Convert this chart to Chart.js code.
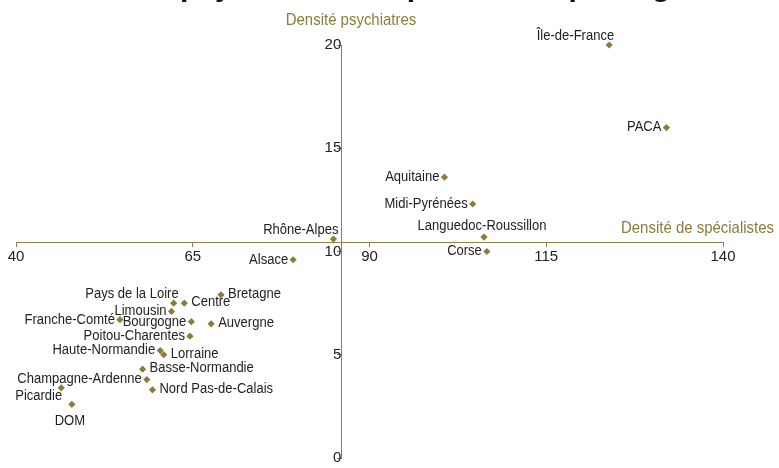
<!DOCTYPE html>
<html>
<head>
<meta charset="utf-8">
<script src="https://cdn.jsdelivr.net/npm/chart.js@4"></script>
<style>
  body { margin: 0; background: #fff; }
  #wrap { width: 779px; height: 468px; position: relative; }
</style>
</head>
<body>
<div id="wrap"><canvas id="chartDensite"></canvas></div>
<script>
// données
const regions = ['Île-de-France', 'PACA', 'Aquitaine', 'Midi-Pyrénées', 'Languedoc-Roussillon',
    'Corse', 'Rhône-Alpes', 'Alsace', 'Bretagne', 'Pays de la Loire', 'Centre', 'Limousin',
    'Franche-Comté', 'Bourgogne', 'Auvergne', 'Poitou-Charentes', 'Haute-Normandie', 'Lorraine',
    'Basse-Normandie', 'Champagne-Ardenne', 'Nord Pas-de-Calais', 'Picardie', 'DOM'];
const densiteSpecialistes = [123.9, 132.0, 100.6, 104.6, 106.2, 106.6, 84.9, 79.2, 69.0, 62.3,
    63.8, 62.0, 54.7, 64.8, 67.6, 64.6, 60.4, 60.9, 57.9, 58.5, 59.3, 46.4, 47.9];
const densitePsychiatres = [20.0, 16.0, 13.6, 12.3, 10.7, 10.0, 10.6, 9.6, 7.9, 7.5,
    7.5, 7.1, 6.7, 6.6, 6.5, 5.9, 5.2, 5.0, 4.3, 3.8, 3.3, 3.4, 2.6];
const xTicks = [40, 65, 90, 115, 140];
const yTicks = [0, 5, 10, 15, 20];

// placement des étiquettes
const labelPos = ['aboveLeft', 'left', 'left', 'left', 'above', 'left', 'aboveLeft', 'left',
    'right', 'aboveLeft', 'right', 'left', 'left', 'left', 'right', 'left', 'left', 'right',
    'right', 'left', 'right', 'belowLeft', 'below'];

const olive = '#8c7b3c';
const axisCol = '#8f8142';
const fontFam = "'Liberation Sans', Arial, sans-serif";

// texte un peu condensé (police étroite dans l'original)
function narrowText(ctx, t, x, y, sx) {
    ctx.save();
    ctx.translate(x, y);
    ctx.scale(sx, 1);
    ctx.fillText(t, 0, 0);
    ctx.restore();
}

const labelsPlugin = {
    id: 'labels',
    afterDatasetsDraw(chart) {
        const ctx = chart.ctx;
        const pts = chart.getDatasetMeta(0).data;
        ctx.save();
        ctx.font = '14px ' + fontFam;
        ctx.fillStyle = '#222';
        ctx.textBaseline = 'middle';
        const sx = 0.93;
        pts.forEach((p, i) => {
            const t = regions[i];
            switch (labelPos[i]) {
                case 'left':
                    ctx.textAlign = 'right'; narrowText(ctx, t, p.x - 5, p.y, sx); break;
                case 'right':
                    ctx.textAlign = 'left'; narrowText(ctx, t, p.x + 7, p.y - 1, sx); break;
                case 'above':
                    ctx.textAlign = 'center'; narrowText(ctx, t, p.x - 2, p.y - 11, sx); break;
                case 'aboveLeft':
                    ctx.textAlign = 'right'; narrowText(ctx, t, p.x + 5, p.y - 9, sx); break;
                case 'belowLeft':
                    ctx.textAlign = 'right'; narrowText(ctx, t, p.x + 1, p.y + 8, sx); break;
                case 'below':
                    ctx.textAlign = 'center'; narrowText(ctx, t, p.x - 2, p.y + 17, sx); break;
            }
        });
        // titres des axes
        ctx.fillStyle = olive;
        ctx.font = '17px ' + fontFam;
        ctx.textAlign = 'center';
        narrowText(ctx, 'Densité psychiatres', 351, 20, 0.88);
        ctx.textAlign = 'right';
        narrowText(ctx, 'Densité de spécialistes', 774, 228, 0.88);
        // titre (coupé en haut)
        ctx.fillStyle = '#111';
        ctx.font = 'bold 30px ' + fontFam;
        ctx.textAlign = 'left';
        ctx.textBaseline = 'alphabetic';
        ctx.fillText('Densité de psychiatres et spécialistes par région', 20, -4);
        ctx.restore();
    }
};

const chartDensite = new Chart(document.getElementById('chartDensite'), {
    type: 'scatter',
    data: {
        datasets: [{
            label: 'Régions',
            data: densiteSpecialistes.map((v, i) => ({ x: v, y: densitePsychiatres[i] })),
            clip: false,
            pointStyle: 'rectRot',
            pointRadius: 3.6,
            pointHoverRadius: 3.6,
            backgroundColor: olive,
            borderColor: olive,
            borderWidth: 0
        }]
    },
    options: {
        responsive: true,
        maintainAspectRatio: false,
        animation: false,
        events: [],
        layout: { padding: { left: 16, right: 56, top: 45, bottom: 3 } },
        plugins: { legend: { display: false }, tooltip: { enabled: false } },
        scales: {
            x: {
                type: 'linear',
                min: 40,
                max: 140,
                position: { y: 10.46 },
                afterFit: (s) => { s.height = 0; },
                afterBuildTicks: (s) => { s.ticks = xTicks.map(v => ({ value: v })); },
                grid: { drawOnChartArea: false, drawTicks: true, tickLength: 4, color: axisCol },
                border: { color: axisCol, width: 1 },
                ticks: { color: '#222', padding: 2, font: { family: fontFam, size: 15 } }
            },
            y: {
                type: 'linear',
                min: 0,
                max: 20,
                position: { x: 86 },
                afterFit: (s) => { s.width = 0; },
                afterBuildTicks: (s) => { s.ticks = yTicks.map(v => ({ value: v })); },
                grid: { drawOnChartArea: false, drawTicks: true, tickLength: 4, color: axisCol },
                border: { color: axisCol, width: 1 },
                ticks: { color: '#222', padding: 1, font: { family: fontFam, size: 15 } }
            }
        }
    },
    plugins: [labelsPlugin]
});
</script>
</body>
</html>
